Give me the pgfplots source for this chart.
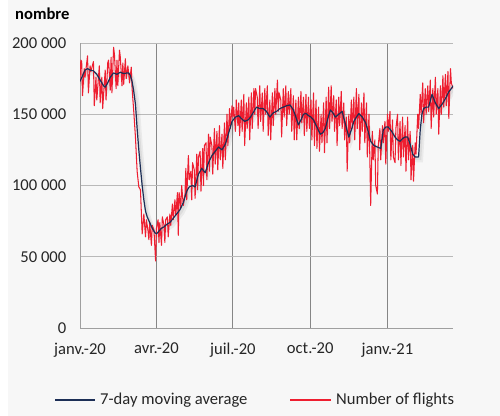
\documentclass[border=0pt]{standalone}
\usepackage{fontspec}
\setmainfont{Carlito}
\usepackage{pgfplots}
\usepackage{pgfplotstable}
\pgfplotsset{compat=1.18}
\definecolor{flightred}{RGB}{238,30,48}
\definecolor{navy}{RGB}{28,46,86}
\definecolor{bg}{RGB}{247,247,247}

\pgfplotstableread{
d v
0 173
3 177
6 181
9 182
12 181
16 180.5
20 178
24 174
28 170
30 169
33 172
36 176
40 179
44 178
48 179.5
52 178.5
56 179
58 179
60 177
62 173
64 166
66 157
68 140
70 125
72 112
74 100
76 90
78 82
80 78
83 74
86 70
89 67
91 66
94 68
97 70
100 71
104 73
107 74
111 77
115 80
119 83
123 88
127 96
130 99
134 100
137 99
141 108
145 112
149 109
153 116
157 121
161 124
165 127
169 125
173 129
177 137
181 145
185 148
189 149
192 147
196 145
200 146
203 148
207 152
210 155
214 154
218 154
222 152
226 148
230 151
234 152
238 154
242 155
246 156
250 156.5
254 153
257 148
260 142.5
263 146
266 150
269 150.6
272 149
275 148
278 146
282 141
286 136
289 137
292 140
295 147
298 153
301 151
304 148
308 150
312 152
316 143
320 134
323 139
326 145
329 148
332 150.5
336 148
340 144
343 138
346 131
350 128
354 127
358 126
361 139
364 141
367 141
371 138
375 134
378 132
381 131
384 133
387 134
390 134
393 129
396 122
399 120
403 120
405 139
407 150
409 154
412 155
415 155
419 164
423 158
427 154
431 157
435 161
439 165.8
442 168
444 170
}\matable

\pgfplotstableread{
d v
0 174
1 188
2 187
3 163
5 182
6 176
9 191
10 165
12 184
13 180
16 187
17 156
19 176
20 160
23 184
24 158
26 176
27 154
30 181
31 160
33 186
34 188
36 167
37 190
38 165
40 197
41 192
43 168
44 188
45 170
47 195
48 190
50 170
51 186
52 171
54 189
55 175
57 184
58 178
59 172
61 183
62 168
64 152
66 134
68 110
70 99
72 97
74 66
76 80
78 64
79 76
81 68
82 62
83 74
85 58
86 72
88 69
90 47
91 70
93 76
94 60
95 74
97 58
98 78
100 72
101 60
102 76
104 78
105 64
107 80
108 72
110 87
111 76
113 90
114 79
116 95
117 65
118 95
120 84
121 100
123 86
125 94
126 112
127 90
129 121
130 104
132 110
133 90
134 116
136 111
137 91
139 122
140 97
141 120
143 124
144 96
146 126
147 100
148 128
150 130
151 104
153 136
154 110
155 134
157 128
158 108
160 140
161 115
163 138
164 111
166 142
167 118
169 136
170 112
172 144
173 118
175 150
176 128
178 154
179 140
181 156
182 148
183 155
185 138
186 160
188 142
189 158
190 135
192 160
193 138
195 164
196 128
198 158
199 140
201 162
202 132
204 165
205 140
207 168
208 150
209 168
211 162
212 140
214 170
215 145
217 165
218 138
220 168
221 150
223 170
224 135
226 160
227 132
229 165
230 142
232 168
233 150
235 174
236 152
237 165
239 160
240 134
242 168
243 148
245 170
246 142
248 166
249 150
251 168
252 138
254 163
255 132
257 160
258 132
260 162
261 140
263 166
264 144
266 162
267 135
269 164
270 138
272 162
273 140
275 160
276 132
278 165
279 128
281 160
282 126
284 155
285 124
287 150
288 130
290 158
291 123
293 162
294 130
296 169
297 140
299 170
300 145
302 163
303 138
305 160
306 128
308 162
309 142
311 166
312 140
314 158
315 132
317 148
318 110
320 150
321 130
323 160
324 140
326 162
327 132
329 168
330 140
332 164
333 125
335 158
336 138
338 165
339 130
341 158
342 120
344 150
345 120
346 86
348 138
349 118
351 132
352 100
354 94
355 128
357 140
358 118
360 142
361 130
363 145
364 115
366 150
367 138
369 152
370 118
372 146
373 120
375 116
376 140
378 150
379 118
381 145
382 114
384 148
385 120
387 142
388 110
390 148
391 118
393 138
394 104
396 128
397 103
399 130
400 122
402 150
403 140
405 164
406 150
408 172
409 144
411 168
412 150
414 170
415 152
417 174
418 140
420 168
421 148
423 176
424 150
426 168
427 136
429 170
430 150
432 177
433 155
435 178
436 156
438 180
439 147
441 182
442 172
444 168
}\fltable

\begin{document}
\fontsize{16.6bp}{20bp}\selectfont
\begin{tikzpicture}
\useasboundingbox (0,0) rectangle (500bp,416bp);
\fill[white] (0,0) rectangle (500bp,416bp);
\fill[bg] (8bp,0) rectangle (500bp,416bp);
\node[anchor=west, font=\bfseries, inner sep=0pt] at (15bp,402bp) {nombre};
\begin{axis}[
  at={(80bp,88bp)}, anchor=south west,
  width=373bp, height=285bp, scale only axis,
  xmin=0, xmax=444, ymin=0, ymax=200,
  axis x line*=bottom, axis y line*=left,
  axis line style={-, draw=gray!75, line width=0.9bp},
  xtick={0,91,182,274,366},
  xticklabels={janv.-20, avr.-20, juil.-20, oct.-20, janv.-21},
  ytick={0,50,100,150,200},
  yticklabels={0, 50 000, 100 000, 150 000, 200 000},
  major tick length=0pt,
  xmajorgrids, ymajorgrids,
  x grid style={draw=gray!95, line width=0.9bp},
  y grid style={draw=gray!55, line width=0.8bp},
  tick label style={font=\fontsize{16.6bp}{20bp}\selectfont, text=black!85},
  yticklabel style={xshift=-8bp},
  xticklabel style={yshift=-9bp},
]
\addplot[forget plot, black, opacity=0.05, line width=5bp, xshift=2bp, yshift=-3bp] table[x=d, y=v] {\matable};
\addplot[forget plot, black, opacity=0.06, line width=2.5bp, xshift=1.5bp, yshift=-2bp] table[x=d, y=v] {\matable};
\addplot[forget plot, color=flightred, line width=1.05bp, line join=round] table[x=d, y=v] {\fltable};
\addplot[forget plot, color=navy, line width=1.2bp, line join=round] table[x=d, y=v] {\matable};
\end{axis}
% legend
\draw[navy, line width=1.2bp] (55bp,16bp) -- (95bp,16bp);
\node[anchor=west, inner sep=0pt, text=black!85] at (100bp,16bp) {7-day moving average};
\draw[flightred, line width=1.05bp] (290bp,16bp) -- (331bp,16bp);
\node[anchor=west, inner sep=0pt, text=black!85] at (336bp,16bp) {Number of flights};
\end{tikzpicture}
\end{document}
